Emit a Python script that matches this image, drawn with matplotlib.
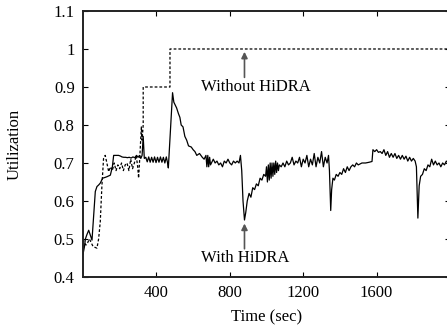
import matplotlib
matplotlib.use("Agg")
import matplotlib.pyplot as plt
from matplotlib.ticker import FormatStrFormatter

plt.rcParams["font.family"] = ["Liberation Serif", "DejaVu Serif"]
plt.rcParams["font.size"] = 12

# With HiDRA (solid line)
t_with = [0, 8, 13, 20, 31, 40, 49, 58, 67, 76, 85, 94, 107, 120, 131, 149, 160, 167, 180, 194,
          205, 212, 222, 232, 242, 252, 262, 272, 282, 292, 300, 308, 315, 322, 328, 334,
          342, 350, 358, 366, 374, 382, 390, 398, 406, 414, 422, 430, 438, 446, 454, 461, 465,
          488, 495, 500, 510, 520, 528, 535, 545, 555, 565, 575, 590, 600, 610, 620, 635, 650, 660,
          670, 675, 680, 685, 690, 695, 700, 710, 720, 730, 740, 750, 760, 770, 780, 790, 800,
          810, 820, 830, 840, 850, 858,
          865, 872, 880, 887, 895, 905, 915, 925, 935, 945, 955, 965, 975, 985, 995,
          1000, 1005, 1010, 1015, 1020, 1025, 1030, 1035, 1040, 1045, 1050, 1055, 1060, 1065,
          1070, 1080, 1090, 1100, 1110, 1120, 1130, 1140, 1150, 1160, 1170, 1180, 1190, 1200,
          1210, 1220, 1230, 1240, 1250, 1260, 1270, 1280, 1290, 1300, 1310, 1320, 1330, 1338,
          1343, 1350, 1355, 1362, 1370, 1380, 1390, 1400, 1410, 1420, 1430, 1440, 1450, 1460,
          1470, 1480, 1490, 1500, 1520, 1540, 1560, 1575,
          1580, 1590, 1600, 1610, 1620, 1630, 1640, 1650, 1660, 1670, 1680, 1690, 1700, 1710,
          1720, 1730, 1740, 1750, 1760, 1770, 1780, 1790, 1800, 1810,
          1817, 1825, 1832, 1840, 1850, 1860, 1870, 1880, 1890, 1900, 1910, 1920, 1930, 1940,
          1950, 1960, 1970, 1980, 1990, 2000]
u_with = [0.46, 0.48, 0.50, 0.51, 0.523, 0.51, 0.497, 0.56, 0.625, 0.638, 0.642, 0.647, 0.66, 0.662, 0.664, 0.668, 0.69, 0.72, 0.72, 0.72,
          0.718, 0.716, 0.715, 0.715, 0.714, 0.715, 0.713, 0.716, 0.714, 0.72, 0.715, 0.72, 0.712, 0.72, 0.77, 0.712,
          0.715, 0.703, 0.716, 0.702, 0.715, 0.702, 0.716, 0.701, 0.715, 0.702, 0.716, 0.702, 0.715, 0.70, 0.716, 0.70, 0.687,
          0.885, 0.86, 0.855, 0.845, 0.83, 0.82, 0.80, 0.795, 0.77, 0.76, 0.745, 0.742, 0.735, 0.73, 0.72, 0.725, 0.715, 0.71,
          0.72, 0.69, 0.72, 0.69, 0.715, 0.695, 0.70, 0.71, 0.70, 0.705, 0.695, 0.70, 0.69, 0.705, 0.70, 0.71, 0.70,
          0.695, 0.705, 0.70, 0.705, 0.70, 0.72,
          0.68, 0.60, 0.55, 0.57, 0.60, 0.62, 0.61, 0.635, 0.63, 0.645, 0.64, 0.66, 0.655, 0.67, 0.665,
          0.69, 0.65, 0.695, 0.655, 0.70, 0.66, 0.70, 0.665, 0.70, 0.67, 0.705, 0.675, 0.70, 0.68,
          0.695, 0.69, 0.70, 0.69, 0.705, 0.695, 0.70, 0.715, 0.695, 0.705, 0.70, 0.715, 0.69, 0.71,
          0.70, 0.72, 0.69, 0.71, 0.695, 0.725, 0.69, 0.715, 0.70, 0.73, 0.69, 0.715, 0.70, 0.72,
          0.68, 0.575, 0.63, 0.66, 0.655, 0.67, 0.665, 0.675, 0.67, 0.685, 0.675, 0.69, 0.68, 0.69,
          0.695, 0.69, 0.70, 0.695, 0.70, 0.70, 0.702, 0.704,
          0.735, 0.73, 0.735, 0.728, 0.73, 0.725, 0.735, 0.72, 0.73, 0.715, 0.725, 0.715, 0.725, 0.712,
          0.72, 0.71, 0.72, 0.71, 0.718, 0.705, 0.715, 0.705, 0.712, 0.705,
          0.69, 0.555, 0.64, 0.665, 0.67, 0.685, 0.68, 0.695, 0.69, 0.71, 0.695, 0.705, 0.695, 0.70,
          0.69, 0.70, 0.695, 0.705, 0.70, 0.705]

# Without HiDRA (dashed line)
t_without = [0, 8, 16, 25, 35, 45, 55, 65, 76, 85, 94, 103, 112, 121, 130, 140, 150, 160, 170,
             180, 190, 200, 210, 220, 230, 240, 250, 260, 270, 280, 290, 298, 303, 310, 318, 322,
             328, 328, 474, 474, 2000]
u_without = [0.50, 0.49, 0.484, 0.49, 0.50, 0.49, 0.48, 0.478, 0.476, 0.50, 0.545, 0.64, 0.712, 0.72, 0.70, 0.677, 0.69, 0.68, 0.70,
             0.68, 0.695, 0.685, 0.70, 0.68, 0.695, 0.70, 0.68, 0.71, 0.685, 0.70, 0.72, 0.69, 0.66, 0.72, 0.795, 0.76,
             0.80, 0.90, 0.90, 1.0, 1.0]

x_ticks = [400, 800, 1200, 1600]
y_ticks = [0.4, 0.5, 0.6, 0.7, 0.8, 0.9, 1.0, 1.1]

fig = plt.figure(figsize=(4.47, 3.28), dpi=100)
ax = fig.add_axes([0.1857, 0.1555, 0.8210, 0.8110])

ax.plot(t_with, u_with, color="black", lw=0.9)
ax.plot(t_without, u_without, color="black", lw=0.9, linestyle=(0, (2.2, 1.6)))

ax.set_xlim(0, 2000)
ax.set_ylim(0.4, 1.1)
ax.set_xticks(x_ticks)
ax.set_yticks(y_ticks)
ax.yaxis.set_major_formatter(FormatStrFormatter("%g"))
ax.tick_params(direction="in", length=3.5, width=0.8, top=True, right=True, pad=6)
for s in ax.spines.values():
    s.set_linewidth(1.4)
    s.set_color("#222222")

ax.set_xlabel("Time (sec)", labelpad=6)
ax.set_ylabel("Utilization", labelpad=22)

# annotations
ax.annotate("", xy=(880, 1.0), xytext=(880, 0.918),
            arrowprops=dict(arrowstyle="-|>", color="#555555", lw=1.2, mutation_scale=9))
ax.text(645, 0.90, "Without HiDRA", ha="left", va="center")
ax.annotate("", xy=(880, 0.548), xytext=(880, 0.467),
            arrowprops=dict(arrowstyle="-|>", color="#555555", lw=1.2, mutation_scale=9))
ax.text(645, 0.45, "With HiDRA", ha="left", va="center")

fig.savefig("out.png", dpi=100)
